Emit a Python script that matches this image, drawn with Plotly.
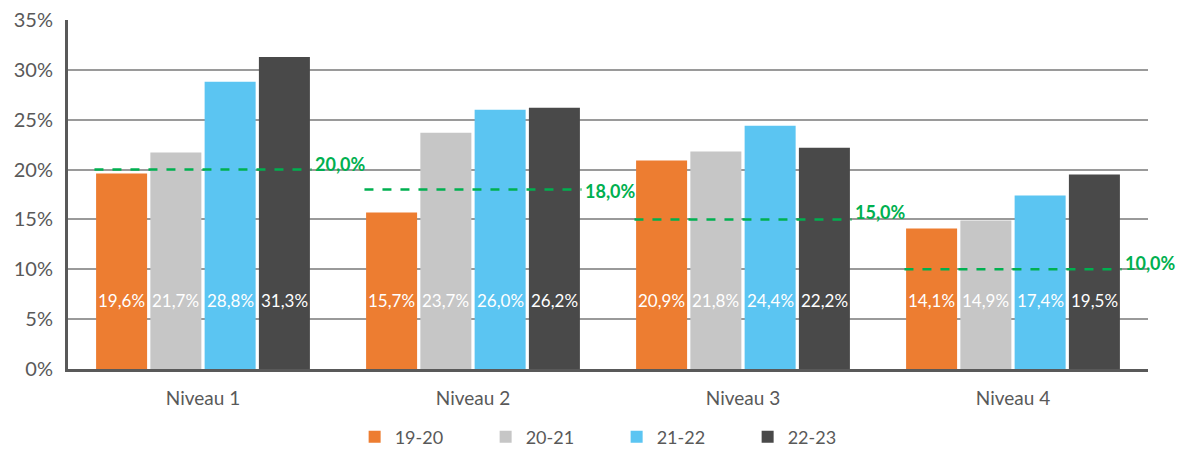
import plotly.graph_objects as go

categories = ["Niveau 1", "Niveau 2", "Niveau 3", "Niveau 4"]
series_names = ["19-20", "20-21", "21-22", "22-23"]
v_19_20 = [19.6, 15.7, 20.9, 14.1]
v_20_21 = [21.7, 23.7, 21.8, 14.9]
v_21_22 = [28.8, 26.0, 24.4, 17.4]
v_22_23 = [31.3, 26.2, 22.2, 19.5]
targets = [20.0, 18.0, 15.0, 10.0]
y_ticks = [0, 5, 10, 15, 20, 25, 30, 35]

series_values = [v_19_20, v_20_21, v_21_22, v_22_23]
colors = ["#ED7D31", "#C6C6C6", "#5BC5F2", "#494949"]

FONT = "Lato, 'Open Sans', sans-serif"
TXT = "#595959"
bargap = 0.196
group_w = 1 - bargap
slot = group_w / len(series_names)

fig = go.Figure()
for name, vals, col in zip(series_names, series_values, colors):
    fig.add_trace(go.Bar(
        x=categories, y=vals, name=name, marker=dict(color=col, line=dict(width=0)),
        hoverinfo="y",
    ))

def fmt(v):
    return f"{v:.1f}".replace(".", ",") + "%"

annotations = []
shapes = []
# value labels inside bars
for j, vals in enumerate(series_values):
    for i, v in enumerate(vals):
        annotations.append(dict(
            x=i + (j - (len(series_names) - 1) / 2) * slot, y=6.9, xref="x", yref="y",
            text=fmt(v), showarrow=False, font=dict(family=FONT, size=17, color="white"),
            xanchor="center", yanchor="middle",
        ))

label_shift = [6, -1, 7, 6]
for i, t in enumerate(targets):
    shapes.append(dict(
        type="line", xref="x", yref="y", x0=i - group_w / 2, x1=i + group_w / 2, y0=t, y1=t,
        line=dict(color="#00B050", width=2.5, dash="dash"),
    ))
    annotations.append(dict(
        x=i + group_w / 2, y=t, xref="x", yref="y", text="<b>" + fmt(t) + "</b>",
        showarrow=False, xanchor="left", yanchor="middle", xshift=1, yshift=label_shift[i],
        font=dict(family=FONT, size=18, color="#00B050"),
    ))

fig.update_layout(
    width=1181, height=449,
    margin=dict(l=68, r=33, t=20, b=80, autoexpand=False),
    plot_bgcolor="white", paper_bgcolor="white",
    barmode="group", bargap=bargap, bargroupgap=0.06,
    font=dict(family=FONT, color=TXT),
    showlegend=True,
    legend=dict(orientation="h", x=0.508, xanchor="center", y=-0.142, yanchor="top",
                font=dict(family=FONT, size=18, color=TXT), entrywidth=86,
                traceorder="normal"),
    annotations=annotations, shapes=shapes,
)
fig.update_yaxes(
    range=[0, 35], tickvals=y_ticks, ticktext=[f"{t}%" for t in y_ticks],
    showgrid=True, gridcolor="#9A9A9A", gridwidth=1.5,
    showline=True, linecolor="#595959", linewidth=3,
    tickfont=dict(family=FONT, size=20, color=TXT), ticks="", ticklabelstandoff=8,
    zeroline=False, automargin=False,
)
fig.update_xaxes(
    range=[-0.5, len(categories) - 0.5],
    showline=True, linecolor="#595959", linewidth=3, ticks="",
    tickfont=dict(family=FONT, size=19, color=TXT), ticklabelstandoff=10,
    automargin=False,
)

fig.write_html("out.html", config={"displayModeBar": False},
               post_script="document.body.style.margin='0';")
